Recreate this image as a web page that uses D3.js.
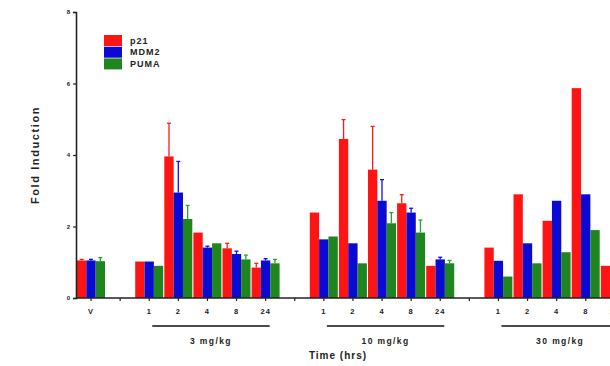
<!DOCTYPE html>
<html>
<head>
<meta charset="utf-8">
<script src="https://cdn.jsdelivr.net/npm/d3@7"></script>
<style>
  html, body { margin: 0; padding: 0; background: #fff; overflow: hidden; }
  svg { display: block; font-family: "Liberation Sans", Arial, sans-serif; }
</style>
</head>
<body>
<div id="chart"></div>
<script>
// categories on the x axis (blank entries are spacer slots)
const categories = ['V', 's1', 'a1', 'a2', 'a4', 'a8', 'a24', 's2', 'b1', 'b2', 'b4', 'b8', 'b24', 's3', 'c1', 'c2', 'c4', 'c8', 'c24'];
const tickLabels = ['V', '', '1', '2', '4', '8', '24', '', '1', '2', '4', '8', '24', '', '1', '2', '4', '8', '24'];
const seriesNames = ['p21', 'MDM2', 'PUMA'];
const seriesColors = ['#ff1414', '#0a0ad2', '#1f861f'];

// values (fold induction), null = empty slot
const p21 =  [1.05, null, 1.02, 3.96, 1.83, 1.39, 0.85, null, 2.39, 4.45, 3.59, 2.65, 0.90, null, 1.41, 2.90, 2.16, 5.87, 0.90];
const mdm2 = [1.05, null, 1.02, 2.95, 1.41, 1.23, 1.05, null, 1.64, 1.53, 2.72, 2.39, 1.08, null, 1.04, 1.53, 2.72, 2.90, 1.00];
const puma = [1.03, null, 0.90, 2.21, 1.53, 1.08, 0.97, null, 1.72, 0.97, 2.09, 1.83, 0.97, null, 0.60, 0.97, 1.28, 1.90, 0.95];

// upper error (SEM), 0 = no bar drawn
const p21Err =  [0.03, 0, 0, 0.93, 0, 0.14, 0.12, 0, 0, 0.54, 1.21, 0.24, 0, 0, 0, 0, 0, 0, 0];
const mdm2Err = [0.03, 0, 0, 0.87, 0.04, 0.08, 0.05, 0, 0, 0, 0.59, 0.12, 0.06, 0, 0, 0, 0, 0, 0];
const pumaErr = [0.10, 0, 0, 0.38, 0, 0.12, 0.11, 0, 0, 0, 0.30, 0.35, 0.08, 0, 0, 0, 0, 0, 0];

const yTicks = [0, 2, 4, 6, 8];
const doseGroups = [
  { label: '3 mg/kg', from: 'a1', to: 'a24' },
  { label: '10 mg/kg', from: 'b1', to: 'b24' },
  { label: '30 mg/kg', from: 'c1', to: 'c24' }
];

const allValues = [p21, mdm2, puma];
const allErrors = [p21Err, mdm2Err, pumaErr];

const width = 610, height = 366;
const svg = d3.select('#chart').append('svg')
  .attr('width', width)
  .attr('height', height);

const x = d3.scaleBand()
  .domain(categories)
  .range([76.5, 76.5 + 29.1 * categories.length])
  .paddingInner(0);

const xSub = d3.scaleBand()
  .domain(seriesNames)
  .range([0.5, x.bandwidth() - 0.6]);

const y = d3.scaleLinear()
  .domain([0, 8])
  .range([298, 12]);

// bars
const bars = [];
categories.forEach((c, i) => {
  seriesNames.forEach((s, j) => {
    const v = allValues[j][i];
    if (v == null) return;
    bars.push({ cat: c, series: s, j, value: v, err: allErrors[j][i] });
  });
});

svg.append('g').selectAll('rect')
  .data(bars).enter().append('rect')
  .attr('x', d => x(d.cat) + xSub(d.series))
  .attr('y', d => y(d.value))
  .attr('width', xSub.bandwidth())
  .attr('height', d => y(0) - y(d.value))
  .attr('fill', d => seriesColors[d.j]);

// error bars (upper only)
const errG = svg.append('g');
bars.filter(d => d.err > 0).forEach(d => {
  const cx = x(d.cat) + xSub(d.series) + xSub.bandwidth() / 2;
  const col = d3.color(seriesColors[d.j]).brighter(0.6);
  errG.append('line')
    .attr('x1', cx).attr('x2', cx)
    .attr('y1', y(d.value)).attr('y2', y(d.value + d.err))
    .attr('stroke', col).attr('stroke-width', 1.3);
  errG.append('line')
    .attr('x1', cx - 2).attr('x2', cx + 2)
    .attr('y1', y(d.value + d.err)).attr('y2', y(d.value + d.err))
    .attr('stroke', col).attr('stroke-width', 1.3);
});

// y axis
const yAxis = svg.append('g')
  .attr('transform', 'translate(76,0)')
  .call(d3.axisLeft(y).tickValues(yTicks).tickSize(3).tickPadding(3));
yAxis.select('.domain').attr('stroke', '#222').attr('stroke-width', 1.6);
yAxis.selectAll('.tick line').attr('stroke', '#222').attr('stroke-width', 1.2);
yAxis.selectAll('.tick text')
  .style('font-size', '6px').style('font-weight', 'bold').attr('fill', '#222');

// x axis
const xAxis = svg.append('g')
  .attr('transform', `translate(0,${y(0)})`)
  .call(d3.axisBottom(x).tickSize(3).tickPadding(8).tickFormat((d, i) => tickLabels[i]));
xAxis.select('.domain')
  .attr('d', `M76,0H${x.range()[1]}`)
  .attr('stroke', '#222').attr('stroke-width', 1.6);
xAxis.selectAll('.tick line').attr('stroke', '#222').attr('stroke-width', 1.2);
xAxis.selectAll('.tick text')
  .style('font-size', '7.5px').style('font-weight', 'bold').attr('fill', '#222')
  .style('letter-spacing', '1px');

// dose group brackets
const mid = c => x(c) + x.bandwidth() / 2;
doseGroups.forEach(g => {
  const x1 = mid(g.from) + 3, x2 = mid(g.to) + 4;
  svg.append('line')
    .attr('x1', x1).attr('x2', x2)
    .attr('y1', 326).attr('y2', 326)
    .attr('stroke', '#111').attr('stroke-width', 1.5);
  svg.append('text')
    .attr('x', (x1 + x2) / 2).attr('y', 344)
    .attr('text-anchor', 'middle')
    .style('font-size', '8.5px').style('font-weight', 'bold')
    .style('letter-spacing', '1.4px')
    .attr('fill', '#222')
    .text(g.label);
});

// axis titles
svg.append('text')
  .attr('x', 338).attr('y', 359)
  .attr('text-anchor', 'middle')
  .style('font-size', '10px').style('font-weight', 'bold')
  .style('letter-spacing', '1px')
  .attr('fill', '#222')
  .text('Time (hrs)');

svg.append('text')
  .attr('transform', 'translate(39,155) rotate(-90)')
  .attr('text-anchor', 'middle')
  .style('font-size', '11px').style('font-weight', 'bold')
  .style('letter-spacing', '1.6px')
  .attr('fill', '#222')
  .text('Fold Induction');

// legend
const legend = svg.append('g').attr('transform', 'translate(104,35)');
seriesNames.forEach((s, i) => {
  legend.append('rect')
    .attr('x', 0).attr('y', i * 11.7)
    .attr('width', 18).attr('height', 11)
    .attr('fill', seriesColors[i]);
  legend.append('text')
    .attr('x', 26).attr('y', i * 11.7 + 8.5)
    .style('font-size', '9px').style('font-weight', 'bold')
    .style('letter-spacing', '1px')
    .attr('fill', '#222')
    .text(s);
});
</script>
</body>
</html>
